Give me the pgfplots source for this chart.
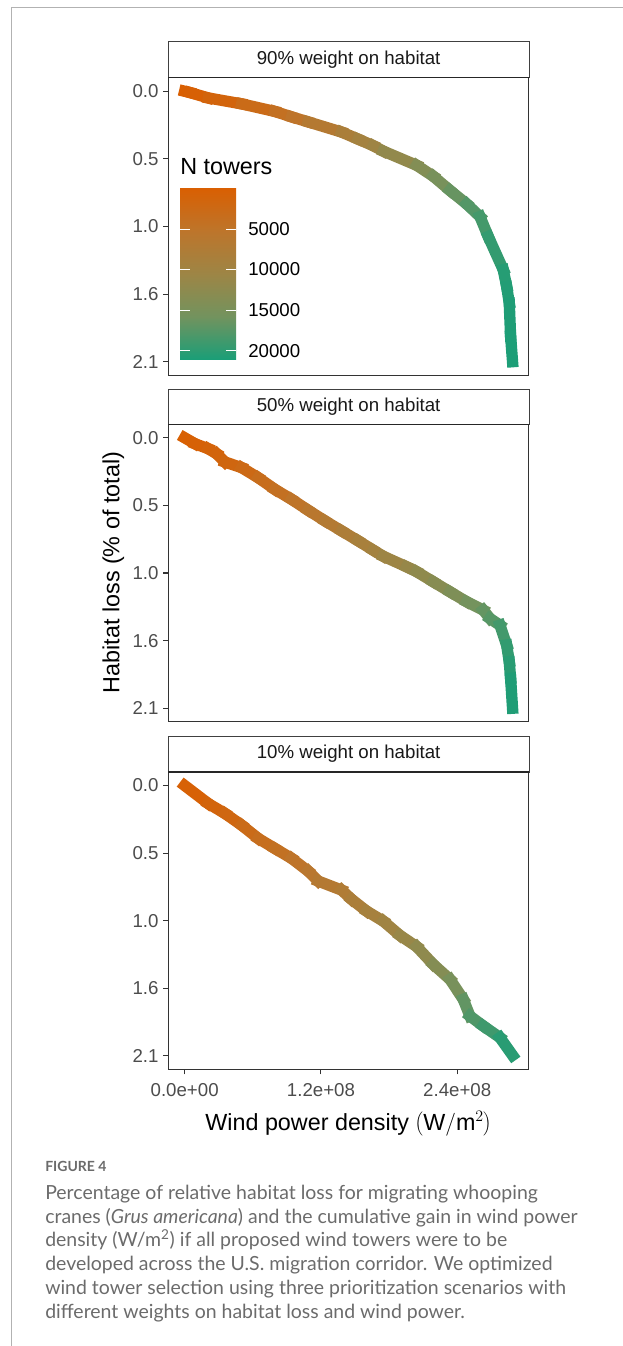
\documentclass[border=0pt]{standalone}
\usepackage{fontspec}
\setmainfont{Liberation Sans}
\newfontfamily\capfont{Lato}
\usepackage{pgfplots}
\pgfplotsset{compat=1.18}

% colours of the N towers scale (orange -> green, Lab-like midpoints)
\pgfplotsset{
  colormap={ntow}{rgb255=(217,95,2) rgb255=(189,117,43) rgb255=(157,133,69) rgb255=(115,147,94) rgb255=(27,158,119)},
  facet/.style={
    scale only axis, width=270.5pt, height=223.1pt, anchor=north west,
    xmin=-1.4435e7, xmax=3.03135e8,
    ymin=-0.105, ymax=2.205, y dir=reverse,
    ytick={0,0.525,1.05,1.575,2.1},
    yticklabels={0.0,0.5,1.0,1.6,2.1},
    scaled x ticks=false, scaled y ticks=false,
    tick align=outside, major tick length=3.75pt,
    xtick pos=bottom, ytick pos=left,
    tick style={black!80, line width=0.8pt},
    axis line style={black!80, line width=0.8pt},
    tick label style={font=\fontsize{14}{16}\selectfont, text=black!70},
    xticklabel style={yshift=-3.5pt},
    colormap name=ntow, point meta min=0, point meta max=21000,
  },
  ntline/.style={mesh, line width=8.5pt, line cap=rect, point meta=explicit},
}
\pgfdeclareverticalshading{ntowbar}{100bp}{rgb(0bp)=(0.106,0.620,0.467); rgb(25bp)=(0.106,0.620,0.467); rgb(37.5bp)=(0.451,0.576,0.369); rgb(50bp)=(0.616,0.522,0.271); rgb(62.5bp)=(0.741,0.459,0.169); rgb(75bp)=(0.851,0.373,0.008); rgb(100bp)=(0.851,0.373,0.008)}

\begin{document}
\begin{tikzpicture}
\useasboundingbox (0,0) rectangle (467.25pt,-1009.5pt);
\draw[black!30, line width=0.75pt] (8.25pt,-1009.5pt) -- (8.25pt,-5.6pt) -- (467.25pt,-5.6pt);

% ---- 90% weight on habitat
\begin{axis}[facet, at={(126.2pt,-58.3pt)}, xtick=\empty]
\addplot[ntline] table[x=x, y=y, meta=n] {
x y n
0 0 0
4.67e6 0.010 80
2.08e7 0.052 600
5.02e7 0.098 1980
7.95e7 0.157 3680
9.42e7 0.199 4620
1.088e8 0.238 5630
1.382e8 0.317 7770
1.528e8 0.372 8890
1.661e8 0.423 9950
1.749e8 0.465 10680
2.043e8 0.575 13180
2.189e8 0.660 14450
2.336e8 0.770 15780
2.483e8 0.875 17130
2.600e8 0.973 18240
2.673e8 1.128 18930
2.805e8 1.386 20200
2.835e8 1.515 20490
2.858e8 1.644 20710
2.870e8 1.902 20830
2.887e8 2.100 21000
};
\end{axis}
\draw[black!75, line width=0.6pt, fill=white] (126.2pt,-30.75pt) rectangle (396.7pt,-58.3pt);
\draw[black!85, line width=1pt] (126.2pt,-58.3pt) -- (396.7pt,-58.3pt);
\node[font=\fontsize{14}{16}\selectfont, text=black!90] at (261.45pt,-44.5pt) {90\% weight on habitat};

% legend (colour bar)
\node[anchor=west, inner sep=0pt, font=\fontsize{17.5}{20}\selectfont] at (135pt,-124.7pt) {N towers};
\shade[shading=ntowbar] (135pt,-269.25pt) rectangle (177pt,-141.2pt);
\foreach \yy/\lab in {-171.75/5000,-201.98/10000,-232.5/15000,-263.0/20000} {
  \draw[white, line width=0.6pt] (135pt,\yy pt) -- (142.5pt,\yy pt);
  \draw[white, line width=0.6pt] (169.5pt,\yy pt) -- (177pt,\yy pt);
  \node[anchor=west, inner sep=0pt, font=\fontsize{14}{16}\selectfont] at (186pt,\yy pt) {\lab};
}

% ---- 50% weight on habitat
\begin{axis}[facet, at={(126.2pt,-318.2pt)}, xtick=\empty]
\addplot[ntline] table[x=x, y=y, meta=n] {
x y n
0 0 0
9.07e6 0.046 310
2.08e7 0.085 690
2.82e7 0.124 1030
3.55e7 0.188 1500
5.02e7 0.232 2070
6.48e7 0.310 2850
7.95e7 0.401 3730
9.42e7 0.478 4580
1.088e8 0.563 5500
1.235e8 0.645 6420
1.382e8 0.723 7370
1.528e8 0.800 8300
1.661e8 0.873 9210
1.749e8 0.920 9810
1.955e8 1.002 11090
2.043e8 1.040 11770
2.189e8 1.118 12710
2.336e8 1.196 13790
2.483e8 1.273 14870
2.629e8 1.338 16300
2.688e8 1.403 17000
2.776e8 1.455 18000
2.835e8 1.609 19300
2.858e8 1.738 19950
2.870e8 1.868 20400
2.887e8 2.100 21000
};
\end{axis}
\draw[black!75, line width=0.6pt, fill=white] (126.2pt,-291.75pt) rectangle (396.7pt,-318.2pt);
\draw[black!85, line width=1pt] (126.2pt,-318.2pt) -- (396.7pt,-318.2pt);
\node[font=\fontsize{14}{16}\selectfont, text=black!90] at (261.45pt,-305pt) {50\% weight on habitat};

% ---- 10% weight on habitat
\begin{axis}[facet, at={(126.2pt,-579pt)},
    xtick={0,1.2e8,2.4e8}, xticklabels={0.0e+00,1.2e+08,2.4e+08}]
\addplot[ntline] table[x=x, y=y, meta=n] {
x y n
0 0 0
2.08e7 0.140 930
3.55e7 0.217 1540
5.02e7 0.308 2310
6.48e7 0.411 3220
7.95e7 0.489 3930
9.42e7 0.566 4650
1.088e8 0.665 5600
1.176e8 0.742 6350
1.382e8 0.812 7040
1.470e8 0.884 7770
1.602e8 0.975 8690
1.749e8 1.053 9490
1.896e8 1.164 10650
2.043e8 1.251 11570
2.189e8 1.389 13050
2.336e8 1.505 14320
2.453e8 1.660 16020
2.512e8 1.790 17470
2.629e8 1.867 18330
2.776e8 1.957 19360
2.887e8 2.095 21000
};
\end{axis}
\draw[black!75, line width=0.6pt, fill=white] (126.2pt,-552pt) rectangle (396.7pt,-579pt);
\draw[black!85, line width=1pt] (126.2pt,-579pt) -- (396.7pt,-579pt);
\node[font=\fontsize{14}{16}\selectfont, text=black!90] at (261.45pt,-565.5pt) {10\% weight on habitat};

% axis titles
\node[rotate=90, font=\fontsize{17.5}{21}\selectfont] at (85pt,-429.4pt) {Habitat loss (\% of total)};
\node[anchor=base, font=\fontsize{17.5}{21}\selectfont] at (261.5pt,-847.5pt)
  {Wind power density $\left(\mbox{W}/\mbox{m}^{2}\right)$};

% caption
\begin{scope}[every node/.style={anchor=base west, inner sep=0pt, text=black!58}]
\node[font=\capfont\bfseries\fontsize{10.5}{12}\selectfont] at (33.75pt,-878.8pt) {FIGURE 4};
\node[font=\capfont\fontsize{14.6}{17}\selectfont] at (33.75pt,-899.5pt) {Percentage of relative habitat loss for migrating whooping};
\node[font=\capfont\fontsize{14.6}{17}\selectfont] at (33.75pt,-917.3pt) {cranes (\textit{Grus americana}) and the cumulative gain in wind power};
\node[font=\capfont\fontsize{14.6}{17}\selectfont] at (33.75pt,-935.1pt) {density (W/m\textsuperscript{2}) if all proposed wind towers were to be};
\node[font=\capfont\fontsize{14.6}{17}\selectfont] at (33.75pt,-952.9pt) {developed across the U.S. migration corridor. We optimized};
\node[font=\capfont\fontsize{14.6}{17}\selectfont] at (33.75pt,-970.7pt) {wind tower selection using three prioritization scenarios with};
\node[font=\capfont\fontsize{14.6}{17}\selectfont] at (33.75pt,-988.5pt) {different weights on habitat loss and wind power.};
\end{scope}
\end{tikzpicture}
\end{document}
